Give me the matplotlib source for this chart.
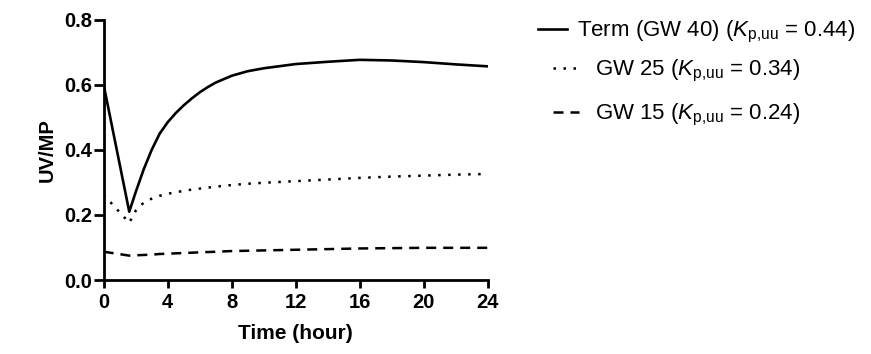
import numpy as np
import matplotlib.pyplot as plt

plt.rcParams['font.family'] = ['Liberation Sans', 'DejaVu Sans']
plt.rcParams['mathtext.fontset'] = 'custom'
plt.rcParams['mathtext.rm'] = 'Liberation Sans'
plt.rcParams['mathtext.it'] = 'Liberation Sans:italic'

# time points (hour)
t = [0, 1.6, 2, 2.5, 3, 3.5, 4, 4.5, 5, 5.5, 6, 6.5, 7, 8, 9, 10, 12, 14, 16, 18, 20, 22, 24]
term = [0.60, 0.21, 0.27, 0.34, 0.40, 0.45, 0.485, 0.513, 0.537, 0.558, 0.577, 0.593,
        0.607, 0.628, 0.642, 0.651, 0.664, 0.671, 0.677, 0.675, 0.670, 0.663, 0.657]
gw25 = [0.262, 0.176, 0.213, 0.238, 0.250, 0.259, 0.265, 0.270, 0.274, 0.278, 0.281,
        0.284, 0.287, 0.292, 0.296, 0.299, 0.304, 0.309, 0.314, 0.318, 0.321, 0.324, 0.326]
gw15 = [0.087, 0.075, 0.076, 0.077, 0.078, 0.080, 0.081, 0.082, 0.083, 0.084, 0.085,
        0.086, 0.087, 0.089, 0.090, 0.091, 0.093, 0.095, 0.097, 0.098, 0.099, 0.099, 0.099]

labels = [r"Term (GW 40) ($K_{\mathrm{p{,}uu}}$ = 0.44)",
          r"GW 25 ($K_{\mathrm{p{,}uu}}$ = 0.34)",
          r"GW 15 ($K_{\mathrm{p{,}uu}}$ = 0.24)"]
xticks = [0, 4, 8, 12, 16, 20, 24]
yticks = [0.0, 0.2, 0.4, 0.6, 0.8]

fig = plt.figure(figsize=(8.71, 3.54), dpi=100)
ax = fig.add_axes([0.119, 0.209, 0.441, 0.735])

l1, = ax.plot(t, term, color='black', lw=1.9, ls='-', label=labels[0])
l2, = ax.plot(t, gw25, color='black', lw=1.8, ls=(0, (1, 3)), label=labels[1])
l3, = ax.plot(t, gw15, color='black', lw=1.8, ls=(0, (4, 2.8)), label=labels[2])

ax.set_xlim(0, 24)
ax.set_ylim(0, 0.8)
ax.set_xticks(xticks)
ax.set_yticks(yticks)
ax.set_yticklabels([f"{v:.1f}" for v in yticks])
for s in ['top', 'right']:
    ax.spines[s].set_visible(False)
for s in ['left', 'bottom']:
    ax.spines[s].set_linewidth(2)
ax.tick_params(axis='y', width=2, length=7, labelsize=14.5, pad=1.5)
ax.tick_params(axis='x', width=2, length=6, labelsize=14.5, pad=3)
for lab in ax.get_xticklabels() + ax.get_yticklabels():
    lab.set_fontweight('bold')
ax.set_xlabel("Time (hour)", fontsize=15, fontweight='bold', labelpad=9)
ax.set_ylabel("UV/MP", fontsize=14.5, fontweight='bold', labelpad=5)
for sp in ax.spines.values():
    sp.set_clip_on(False)

leg1 = ax.legend(handles=[l1], loc='center left', bbox_to_anchor=(538 / 871, 1 - 32 / 354),
                 bbox_transform=fig.transFigure, frameon=False, fontsize=16,
                 borderpad=0, borderaxespad=0, handlelength=1.3, handletextpad=0.45)
ax.add_artist(leg1)
ax.legend(handles=[l2, l3], loc='center left', bbox_to_anchor=(553 / 871, 1 - 93 / 354),
          bbox_transform=fig.transFigure, frameon=False, fontsize=16,
          borderpad=0, borderaxespad=0, handlelength=1.15, handletextpad=0.75,
          labelspacing=0.8)

fig.savefig("out.png", dpi=100)
